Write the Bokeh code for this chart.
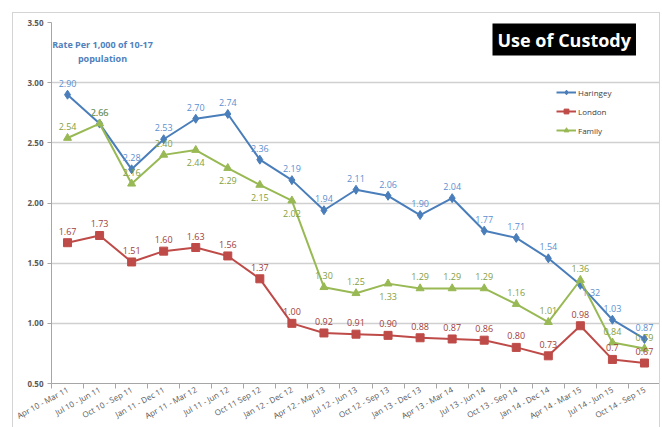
import math
from bokeh.plotting import figure
from bokeh.models import (ColumnDataSource, FixedTicker, NumeralTickFormatter,
                          Label, Legend, LegendItem)
from bokeh.core.properties import value
from bokeh.embed import file_html
from bokeh.resources import INLINE

# ---------------- data ----------------
categories = ["Apr 10 - Mar 11", "Jul 10 - Jun 11", "Oct 10 - Sep 11", "Jan 11 - Dec 11",
              "Apr 11 - Mar 12", "Jul 11 - Jun 12", "Oct 11 Sep 12", "Jan 12 - Dec 12",
              "Apr 12 - Mar 13", "Jul 12 - Jun 13", "Oct 12 - Sep 13", "Jan 13 - Dec 13",
              "Apr 13 - Mar 14", "Jul 13 - Jun 14", "Oct 13 - Sep 14", "Jan 14 - Dec 14",
              "Apr 14 - Mar 15", "Jul 14 - Jun 15", "Oct 14 - Sep 15"]
haringey = [2.90, 2.66, 2.28, 2.53, 2.70, 2.74, 2.36, 2.19, 1.94, 2.11, 2.06, 1.90,
            2.04, 1.77, 1.71, 1.54, 1.32, 1.03, 0.87]
london = [1.67, 1.73, 1.51, 1.60, 1.63, 1.56, 1.37, 1.00, 0.92, 0.91, 0.90, 0.88,
          0.87, 0.86, 0.80, 0.73, 0.98, 0.70, 0.67]
family = [2.54, 2.66, 2.16, 2.40, 2.44, 2.29, 2.15, 2.02, 1.30, 1.25, 1.33, 1.29,
          1.29, 1.29, 1.16, 1.01, 1.36, 0.84, 0.79]
y_ticks = [0.5, 1.0, 1.5, 2.0, 2.5, 3.0, 3.5]

# label text (as printed in the source chart)
haringey_labels = [f"{v:.2f}" for v in haringey]
london_labels = [f"{v:.2f}" for v in london]
london_labels[17] = "0.7"
family_labels = [f"{v:.2f}" for v in family]

# ---------------- styling ----------------
C_HAR, C_HAR_T = "#4A7EBB", "#5B8FD0"
C_LON, C_LON_T = "#BE4B48", "#A03E3B"
C_FAM, C_FAM_T = "#98B954", "#84A03E"
FONT = "Open Sans"

xs = list(range(len(categories)))

p = figure(width=648, height=415, output_backend="svg", toolbar_location=None,
           x_range=(-0.5, len(categories) - 0.5), y_range=(0.5, 3.5),
           min_border_left=38, min_border_top=9, min_border_right=1, min_border_bottom=40)
p.margin = (12, 0, 0, 12)
p.styles = {"border-top": "1px solid #d4d4d4", "border-left": "1px solid #d4d4d4",
            "border-right": "1px solid #d4d4d4"}
p.outline_line_color = None
p.background_fill_color = "white"
p.border_fill_color = "white"

# axes
p.yaxis.ticker = FixedTicker(ticks=y_ticks)
p.yaxis.formatter = NumeralTickFormatter(format="0.00")
p.yaxis.major_label_text_font = FONT
p.yaxis.major_label_text_font_size = "8px"
p.yaxis.major_label_text_font_style = "bold"
p.yaxis.major_label_text_color = "#595959"
p.yaxis.axis_line_color = "#a6a6a6"
p.yaxis.major_tick_line_color = "#a6a6a6"
p.yaxis.major_tick_out = 4
p.yaxis.major_tick_in = 0
p.yaxis.minor_tick_line_color = None
p.yaxis.major_label_standoff = 4

p.xaxis.ticker = FixedTicker(ticks=xs, minor_ticks=[i - 0.5 for i in range(len(categories) + 1)])
p.xaxis.major_label_overrides = {i: c for i, c in enumerate(categories)}
p.xaxis.major_label_orientation = 0.5
p.xaxis.major_label_text_font = FONT
p.xaxis.major_label_text_font_size = "8px"
p.xaxis.major_label_text_color = "#595959"
p.xaxis.axis_line_color = "#a6a6a6"
p.xaxis.major_tick_line_color = None
p.xaxis.major_tick_out = 0
p.xaxis.minor_tick_line_color = "#a6a6a6"
p.xaxis.minor_tick_out = 5
p.xaxis.minor_tick_in = 0
p.xaxis.major_label_standoff = 0

p.xgrid.grid_line_color = None
p.ygrid.grid_line_color = "#d0d0d0"
p.ygrid.grid_line_width = 1.5

# series
series = [
    ("Haringey", haringey, haringey_labels, C_HAR, C_HAR_T, "diamond", 9),
    ("London", london, london_labels, C_LON, C_LON_T, "square", 8),
    ("Family", family, family_labels, C_FAM, C_FAM_T, "triangle", 8),
]
legend_items = []
for name, vals, labels, col, tcol, marker, msize in series:
    src = ColumnDataSource(dict(x=xs, y=vals, label=labels))
    ln = p.line("x", "y", source=src, line_color=col, line_width=2)
    sc = p.scatter("x", "y", source=src, marker=marker, size=msize,
                   fill_color=col, line_color=col)
    legend_items.append(LegendItem(label=name, renderers=[ln, sc]))

# data labels: above by default, some placed below / beside as in the source
below_family = {4, 5, 6, 7, 10}
for name, vals, labels, col, tcol, marker, msize in series:
    above = dict(x=[], y=[], label=[])
    below = dict(x=[], y=[], label=[])
    side = dict(x=[], y=[], label=[])
    for i, (v, t) in enumerate(zip(vals, labels)):
        if name == "Family" and i in below_family:
            tgt = below
        elif name == "Haringey" and i == 16:
            tgt = side
        else:
            tgt = above
        tgt["x"].append(xs[i]); tgt["y"].append(v); tgt["label"].append(t)
    p.text("x", "y", text="label", source=ColumnDataSource(above),
           text_font=value(FONT), text_font_size="9px", text_color=tcol,
           text_align="center", text_baseline="bottom", y_offset=-8)
    p.text("x", "y", text="label", source=ColumnDataSource(below),
           text_font=value(FONT), text_font_size="9px", text_color=tcol,
           text_align="center", text_baseline="top", y_offset=9)
    p.text("x", "y", text="label", source=ColumnDataSource(side),
           text_font=value(FONT), text_font_size="9px", text_color=tcol,
           text_align="left", text_baseline="middle", x_offset=2, y_offset=8)

legend = Legend(items=legend_items, location=(505, 247), orientation="vertical",
                label_text_font=FONT, label_text_font_size="8px",
                label_text_color="#404040", glyph_width=20, glyph_height=12,
                label_standoff=2, spacing=7, padding=4, border_line_color=None,
                background_fill_alpha=0)
p.add_layout(legend)

# title box
p.add_layout(Label(x=441, y=328, x_units="screen", y_units="screen",
                   text="Use of Custody", text_font=FONT, text_font_size="18px",
                   text_font_style="bold", text_color="white",
                   background_fill_color="black", padding=(5, 4)))

# axis title inside the plot
p.add_layout(Label(x=51, y=318, x_units="screen", y_units="screen",
                   text="Rate Per 1,000 of 10-17\npopulation", text_font=FONT,
                   text_font_size="9px", text_font_style="bold", text_color="#4F81BD",
                   text_align="center", text_line_height=1.1))

open("out.html", "w").write(file_html(p, INLINE))
